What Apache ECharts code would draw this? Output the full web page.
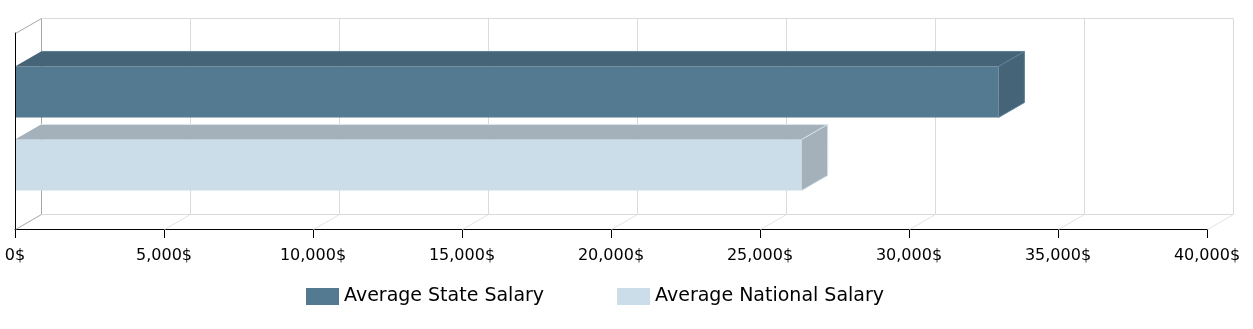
<!DOCTYPE html>
<html>
<head>
<meta charset="utf-8">
<script src="https://cdn.jsdelivr.net/npm/echarts@6/dist/echarts.min.js"></script>
<style>
  html, body { margin: 0; padding: 0; background: #fff; }
  #chart { width: 1253px; height: 329px; }
</style>
</head>
<body>
<div id="chart"></div>
<script>
// Chart data
const categories = ['State', 'National'];
const seriesNames = ['Average State Salary', 'Average National Salary'];
const salaries = [33000, 26400];
const tickValues = [0, 5000, 10000, 15000, 20000, 25000, 30000, 35000, 40000];

// 3D depth offset of the back wall and bar tops
const DX = 26, DY = 15;
const FONT = '"DejaVu Sans", Verdana, sans-serif';

const barColors = [
  { front: '#537a90', shade: '#466478', edge: '#5b8198' },
  { front: '#cbdde9', shade: '#a4b1ba', edge: '#d9e6ee' }
];

function fmt(v) {
  return v.toLocaleString('en-US') + '$';
}

// Back wall, floor and left-side lines of the 3D frame
function renderWalls(params, api) {
  const cs = params.coordSys;
  const v = api.value(0);
  const p = api.coord([v, 0]);
  const x = p[0];
  const top = cs.y, bottom = cs.y + cs.height;
  const xEnd = cs.x + cs.width;
  const light = '#dadada', mid = '#a6a6a6';
  const h = 0.5;
  const first = params.dataIndex === 0;
  const children = [
    { type: 'line', shape: { x1: x + DX + h, y1: top - DY + h, x2: x + DX + h, y2: bottom - DY + h },
      style: { stroke: first ? mid : light, lineWidth: 1 } },
    { type: 'line', shape: { x1: x + h, y1: bottom + h, x2: x + DX + h, y2: bottom - DY + h },
      style: { stroke: first ? mid : '#e3e3e3', lineWidth: 1 } }
  ];
  if (first) {
    children.push(
      { type: 'line', shape: { x1: x + h, y1: top + h, x2: x + DX + h, y2: top - DY + h },
        style: { stroke: mid, lineWidth: 1 } },
      { type: 'line', shape: { x1: x + DX + h, y1: top - DY + h, x2: xEnd + DX + h, y2: top - DY + h },
        style: { stroke: light, lineWidth: 1 } },
      { type: 'line', shape: { x1: x + DX + h, y1: bottom - DY + h, x2: xEnd + DX + h, y2: bottom - DY + h },
        style: { stroke: light, lineWidth: 1 } }
    );
  }
  return { type: 'group', children: children };
}

// 3D bar: front face, top face and right side face
function makeBarRenderer(colors) {
  return function (params, api) {
    const v = api.value(0);
    const c = api.value(1);
    const p0 = api.coord([0, c]);
    const p1 = api.coord([v, c]);
    const band = api.size([0, 1])[1];
    const h = band * 0.7;
    const x0 = p0[0], x1 = p1[0];
    const yTop = p0[1] - h / 2, yBot = yTop + h;
    return {
      type: 'group',
      children: [
        { type: 'rect', shape: { x: x0, y: yTop, width: x1 - x0, height: h },
          style: { fill: colors.front } },
        { type: 'polygon',
          shape: { points: [[x0, yTop], [x0 + DX, yTop - DY], [x1 + DX, yTop - DY], [x1, yTop]] },
          style: { fill: colors.shade } },
        { type: 'polygon',
          shape: { points: [[x1, yTop], [x1 + DX, yTop - DY], [x1 + DX, yBot - DY], [x1, yBot]] },
          style: { fill: colors.shade } },
        { type: 'polyline',
          shape: { points: [[x0 + DX, yTop - DY], [x1 + DX, yTop - DY], [x1 + DX, yBot - DY], [x1, yBot]] },
          style: { stroke: colors.edge, lineWidth: 1, fill: null } },
        { type: 'line', shape: { x1: x1, y1: yTop, x2: x1 + DX, y2: yTop - DY },
          style: { stroke: colors.edge, lineWidth: 1 } }
      ]
    };
  };
}

const chart = echarts.init(document.getElementById('chart'), null, { renderer: 'canvas' });

const option = {
  animation: false,
  backgroundColor: '#ffffff',
  textStyle: { fontFamily: FONT },
  grid: [
    { left: 15, right: 46, top: 33, bottom: 100 },
    { left: 15, right: 46, top: 55.5, bottom: 127.5 }
  ],
  xAxis: [
    {
      gridIndex: 0, type: 'value', min: 0, max: 40000, interval: 5000,
      axisLine: { show: true, lineStyle: { color: '#000', width: 1 } },
      axisTick: { show: true, length: 9, lineStyle: { color: '#000' } },
      axisLabel: {
        formatter: fmt, fontSize: 16, color: '#000', fontFamily: FONT, margin: 19
      },
      splitLine: { show: false }
    },
    { gridIndex: 1, type: 'value', min: 0, max: 40000, show: false }
  ],
  yAxis: [
    {
      gridIndex: 0, type: 'value', min: 0, max: 1, z: 10,
      axisLine: { show: true, lineStyle: { color: '#000', width: 1 } },
      axisTick: { show: false }, axisLabel: { show: false }, splitLine: { show: false }
    },
    { gridIndex: 1, type: 'category', data: categories, inverse: true, show: false }
  ],
  legend: {
    data: seriesNames,
    left: 306, top: 287,
    padding: 0,
    icon: 'rect',
    itemWidth: 33, itemHeight: 17, itemGap: 73,
    textStyle: { fontSize: 19, color: '#000', fontFamily: FONT, padding: [3, 0, 0, 0] }
  },
  series: [
    {
      type: 'custom', name: '_walls', xAxisIndex: 0, yAxisIndex: 0,
      renderItem: renderWalls, clip: false, silent: true, z: 1,
      data: tickValues.map(v => [v])
    },
    ...seriesNames.map((name, i) => ({
      type: 'custom', name: name, xAxisIndex: 1, yAxisIndex: 1,
      renderItem: makeBarRenderer(barColors[i]), clip: false, z: 2,
      itemStyle: { color: barColors[i].front },
      data: [[salaries[i], i]]
    }))
  ]
};

chart.setOption(option);
</script>
</body>
</html>
